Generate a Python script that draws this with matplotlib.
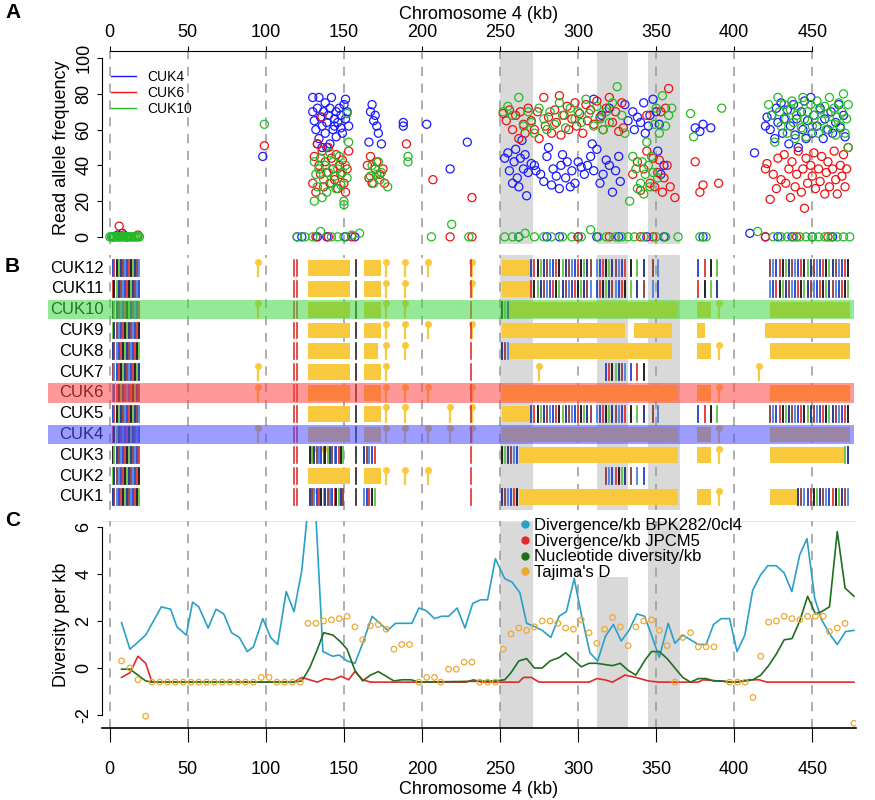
import numpy as np
import matplotlib.pyplot as plt
from matplotlib.lines import Line2D
from matplotlib.patches import Rectangle

plt.rcParams["font.family"] = ["Liberation Sans Narrow", "Liberation Sans", "DejaVu Sans"]

XLIM = (-5, 478)
KB_TICKS = [0, 50, 100, 150, 200, 250, 300, 350, 400, 450]
SHADE = [(250, 271), (312, 332), (345, 365)]
SHADE_TOP_C = [6.25, 3.85, 6.25]

# ---- panel A: read allele frequency (position kb, frequency %)
cuk4 = [(98,45),(130,78),(130,70),(131,65),(132,60),(133,72),(134,78),(134,55),(135,67),(136,62),(137,70),(138,75),(138,58),
        (139,64),(140,68),(141,52),(141,72),(142,78),(143,60),(144,66),(145,70),(145,56),(146,64),(147,72),(148,61),(148,68),
        (149,58),(150,74),(151,66),(151,77),(152,70),(153,62),(133,52),(136,50),(144,62),(139,50),
        (166,53),(167,70),(168,74),(169,65),(170,68),(171,62),(172,58),(174,52),(188,64),(188,62),(203,63),(218,38),(229,53),
        (253,44),(255,47),(256,37),(258,30),(259,42),(260,49),(261,33),(262,28),(263,44),(264,54),(265,38),(266,46),(267,23),
        (268,36),(270,41),(272,40),(273,37),(276,35),(278,31),(280,45),(281,50),(283,29),(284,38),(286,34),(288,27),(289,40),
        (290,46),(292,33),(293,42),(295,28),(296,37),(298,30),(300,42),(302,39),(304,35),(306,40),(308,45),(309,52),(310,37),
        (312,49),(314,30),(316,35),(318,43),(320,40),(322,25),(324,37),(326,45),(327,31),
        (310,77),(315,68),(320,72),(330,74),(332,65),(335,70),(336,60),(338,67),(340,64),(342,75),(343,58),(345,62),(346,68),
        (348,77),(350,70),(351,48),(353,35),(355,40),(352,63),(375,61),(378,59),(380,63),(385,61),(413,47),
        (420,62),(421,67),(423,60),(424,68),(426,55),(427,72),(428,64),(430,75),(431,58),(432,66),(434,71),(435,52),(436,62),
        (438,74),(439,57),(440,66),(441,50),(443,70),(444,60),(445,76),(446,55),(447,65),(449,78),(450,58),(451,68),(453,62),
        (455,72),(457,55),(458,66),(460,60),(462,70),(463,58),(465,64),(467,74),(468,61),(470,68),(471,56),
        (2,0),(5,1),(8,2),(11,0),(120,0),(123,0),(133,0),(139,0),(151,0),(157,0),(262,0),(280,0),(288,0),(300,0),(312,0),
        (326,0),(344,0),(355,0),(380,0),(410,2),(420,0),(428,0),(437,0),(450,0),(463,0)]
cuk6 = [(99,51),(136,67),(130,30),(131,45),(132,25),(133,52),(134,40),(135,35),(136,48),(137,28),(138,42),(139,36),(140,50),
        (141,30),(142,44),(143,38),(144,32),(145,46),(146,27),(147,40),(148,35),(149,43),(150,30),(151,25),(152,38),(153,48),
        (165,40),(166,33),(167,45),(168,30),(170,38),(171,42),(173,35),(175,38),(176,30),(190,52),(207,32),(232,22),
        (252,69),(254,65),(256,71),(258,60),(260,68),(262,55),(263,70),(265,63),(266,58),(268,72),(270,65),(272,60),(274,70),
        (275,55),(278,78),(279,62),(281,67),(283,58),(285,71),(286,64),(288,79),(289,57),(291,68),(293,73),(294,60),(296,66),
        (298,75),(299,62),(301,69),(303,58),(305,74),(306,65),(308,71),(310,63),(312,76),(314,67),(316,60),(318,72),(320,78),
        (322,64),(324,70),(326,59),(328,75),(329,61),
        (335,35),(338,42),(340,26),(342,38),(344,48),(346,30),(348,44),(349,28),(351,36),(352,43),(354,25),(355,33),(357,40),
        (358,83),(359,28),(362,22),(353,70),(356,72),(344,68),(375,42),(378,25),(380,29),(390,30),
        (420,38),(421,41),(423,21),(425,35),(427,27),(428,44),(430,32),(432,46),(433,30),(435,38),(436,22),(437,42),(439,28),
        (440,35),(441,48),(443,25),(444,38),(445,16),(446,44),(447,30),(449,40),(450,34),(451,47),(452,27),(454,38),(455,31),
        (456,45),(458,24),(459,36),(460,42),(461,28),(463,38),(464,48),(465,32),(466,24),(468,40),(469,34),(470,46),(471,28),
        (472,38),(473,50),
        (6,6),(9,1),(18,1),(132,0),(140,0),(155,0),(218,0),(232,0),(300,0),(320,0),(340,0),(348,0),(420,0),(440,0),(460,0)]
cuk10 = [(99,63),(152,69),(131,42),(131,20),(132,35),(133,28),(134,38),(135,44),(136,22),(137,32),(138,40),(139,25),(140,36),
         (141,47),(142,30),(143,42),(144,34),(145,27),(146,38),(147,45),(148,29),(149,36),(150,18),(150,20),(151,40),(152,33),
         (153,53),(167,34),(168,40),(169,30),(170,38),(171,35),(172,42),(173,32),(174,36),(178,28),(191,45),(191,42),
         (252,70),(255,73),(258,68),(262,78),(265,62),(268,70),(270,64),(272,58),(275,72),(278,66),(280,60),(282,70),(285,63),
         (288,75),(290,68),(292,61),(295,72),(298,66),(300,70),(302,64),(305,77),(307,69),(310,62),(312,73),(314,66),(316,60),
         (318,70),(320,64),(322,75),(325,84),(328,68),(330,58),
         (333,20),(335,45),(337,38),(338,27),(340,30),(341,42),(342,24),(343,35),(344,53),(345,40),(346,28),(347,45),(348,36),
         (349,63),(350,72),(351,33),(352,58),(354,79),(356,62),(358,68),(360,72),(372,69),(374,56),(392,72),
         (422,74),(424,68),(426,53),(428,78),(429,70),(430,62),(432,74),(433,66),(434,58),(436,71),(437,76),(438,64),(439,55),
         (440,68),(441,73),(443,61),(444,78),(445,66),(446,56),(447,70),(449,74),(450,62),(451,68),(453,76),(454,58),(455,71),
         (456,65),(458,73),(459,60),(460,69),(461,78),(462,63),(464,72),(465,57),(466,67),(467,75),(468,62),(469,70),(470,80),
         (471,58),(472,66),(473,74),(473,50),
         (0,0),(1,0),(2,0),(3,0),(4,0),(5,0),(6,0),(7,0),(8,0),(9,0),(10,0),(11,0),(12,0),(13,0),(14,0),(15,0),(16,0),(17,0),
         (18,0),(19,0),(120,0),(125,0),(130,0),(135,3),(142,0),(146,0),(150,0),(155,1),(160,2),(206,0),(219,7),(230,0),(253,0),
         (258,0),(262,0),(266,2),(272,0),(278,0),(283,0),(290,0),(296,0),(302,0),(308,4),(313,0),(318,0),(324,0),(328,0),
         (332,0),(336,0),(342,0),(350,0),(356,0),(364,0),(378,0),(382,0),(415,3),(425,0),(430,0),(434,0),(438,0),(442,0),
         (446,0),(450,0),(454,0),(458,0),(462,0),(466,0),(470,0),(474,0)]

# ---- panel B: haplotypes
samples = ["CUK12", "CUK11", "CUK10", "CUK9", "CUK8", "CUK7", "CUK6", "CUK5", "CUK4", "CUK3", "CUK2", "CUK1"]
snp_ticks = [2, 3, 4.5, 6, 7, 8.5, 9.5, 11, 12, 13.5, 15, 16, 17.5, 18.5,
             128, 129.5, 131, 132.5, 134, 135.5, 137, 138, 139.5, 141, 142.5, 144, 145, 146.5, 148, 149.5,
             163, 164.5, 166, 168, 170,
             251, 253, 255, 257, 259, 261, 265, 270, 272, 274, 276, 278, 280, 282, 284, 286, 288, 290, 292, 294, 296,
             298, 300, 302, 304, 306, 308, 312, 314, 316, 318, 320, 322, 324, 326, 328, 330, 334, 338, 342, 348, 351,
             377, 381, 385, 389, 414, 423, 425, 427, 429, 431, 433, 435, 437, 439, 441, 443, 445, 447, 449, 451, 453,
             455, 457, 459, 461, 463, 465, 467, 469, 471, 473]
common_ticks = [118, 120, 157.5, 231.5]
common_colors = ["#e03030", "#e03030", "#222222", "#e03030"]
yellow = [
    [(127, 154), (163, 174), (251, 270)],
    [(127, 154), (163, 174), (251, 270)],
    [(127, 154), (163, 174), (256, 364), (376, 385), (423, 474)],
    [(127, 154), (163, 174), (251, 330), (336, 360), (376, 381), (420, 474)],
    [(127, 154), (163, 172), (256, 360), (376, 385), (423, 474)],
    [(127, 154), (163, 174)],
    [(127, 154), (163, 174), (251, 364), (376, 385), (423, 474)],
    [(127, 154), (163, 174), (251, 270)],
    [(127, 154), (163, 174), (251, 364), (376, 385), (423, 474)],
    [(262, 364), (376, 385), (423, 470)],
    [(127, 154), (163, 174)],
    [(262, 364), (376, 385), (423, 440)],
]
stalks = [
    [95, 177, 189, 204, 232], [177, 189, 232], [95, 177, 189, 390], [177, 189, 204, 232],
    [177, 189, 390], [95, 177, 275, 416], [95, 177, 189, 204, 232, 390], [177, 189, 218, 232],
    [95, 177, 189, 204, 218, 232, 390], [130, 137, 390], [177, 189, 204], [130, 390],
]
colored = [
    [(0, 20), (270, 352), (376, 395), (423, 474)],
    [(0, 20), (270, 352), (376, 395), (423, 474)],
    [(0, 20), (251, 256)],
    [(0, 20)],
    [(0, 20), (251, 256)],
    [(0, 20), (318, 345)],
    [(0, 20)],
    [(0, 20), (270, 352), (376, 395), (423, 474)],
    [(0, 20)],
    [(0, 20), (128, 150), (163, 171), (251, 262), (470, 474)],
    [(0, 20), (318, 345)],
    [(0, 20), (128, 150), (163, 171), (251, 262), (440, 474)],
]
highlight = {"CUK10": "#3fd63f", "CUK6": "#ff4545", "CUK4": "#4d4dff"}
snp_palette = ["#2040d0", "#e03030", "#111111", "#60c040", "#1b2a8a", "#8b3a3a", "#4a80e0"]

# ---- panel C: diversity (kb, value)
div_bpk = [(7.5,1.93),(12.9,0.8),(23,1.4),(33,2.6),(39,2.5),(43,1.75),(49,1.4),(53,2.8),(57,2.6),(63,1.7),(68,2.5),(73,2.3),
           (78,1.5),(83,1.3),(88,0.7),(92,0.9),(98,2.1),(103,1.3),(107.5,1.0),(113,3.25),(118,2.4),(123,4.15),(126.5,6.5),
           (132,6.5),(136.5,0.7),(142.7,0.5),(147,0.55),(152,0.3),(157,0.2),(162,1.05),(168,2.2),(173,1.9),(178,1.6),
           (183,1.9),(188,1.9),(193.5,1.9),(198,2.55),(202.5,2.45),(208,2.1),(212.5,2.2),(217,2.2),(222.5,2.55),(227.5,1.7),
           (232.5,2.75),(237.5,2.9),(242,2.9),(247,4.65),(253,3.8),(257.7,3.65),(262.7,3.2),(267,1.9),(272.5,1.75),
           (277,1.6),(282.5,1.3),(287.8,2.2),(292.5,2.4),(297.5,3.8),(302,2.3),(307.5,0.65),(312.5,0.3),(317.5,1.35),
           (322.6,1.85),(327.6,1.15),(332.6,1.6),(337.6,2.3),(342.6,2.2),(347,1.4),(352,0.45),(357.7,1.9),(362,1.05),
           (367,1.4),(372,1.2),(377,1.0),(382,1.0),(386.7,1.85),(391.7,2.1),(397,2.1),(401.8,0.7),(406.8,1.4),(411.8,3.3),
           (416.8,3.95),(421.5,4.35),(426.9,4.35),(431.9,4.05),(436.9,3.25),(441.9,4.8),(446.6,5.5),(451.6,2.95),
           (456,2.05),(461.6,1.4),(466,1.0),(471.3,1.55),(476.7,1.6)]
div_jpc = [(7.5,-0.4),(12.9,-0.2),(18,0.5),(23,0.2),(27,-0.6),(118,-0.6),(123,-0.4),(128,-0.5),(133,-0.6),(138,-0.45),
           (143,-0.5),(148,-0.35),(153,-0.5),(157,-0.15),(162,-0.5),(167,-0.6),(228,-0.6),(233,-0.5),(238,-0.6),
           (262,-0.6),(265,-0.4),(270,-0.4),(275,-0.6),(307,-0.6),(312,-0.45),(317,-0.5),(322,-0.6),(330,-0.3),
           (337,-0.4),(345,-0.55),(352,-0.6),(377,-0.6),(380,-0.5),(390,-0.55),(400,-0.6),(410,-0.5),(416,-0.5),
           (421,-0.6),(476.7,-0.6)]
nuc_div = [(7.5,-0.05),(12.9,-0.05),(18,-0.3),(23,-0.55),(27,-0.6),(118,-0.6),(123,-0.55),(128,0.0),(133,0.8),(137,1.5),
           (143,1.4),(148,1.1),(152,0.8),(157,-0.1),(162,-0.55),(167,-0.3),(172,-0.15),(177,-0.35),(182,-0.55),
           (187,-0.5),(193,-0.5),(198,-0.6),(247,-0.55),(253,-0.5),(257,-0.2),(262,0.3),(267,0.4),(272,0.0),(277,0.0),
           (282,0.3),(288,0.45),(292,0.65),(297,0.35),(302,0.05),(307,0.2),(312,0.2),(317,0.15),(322,0.1),(327,0.2),
           (332,-0.1),(337,-0.3),(343,0.35),(347,0.7),(352,0.7),(357,0.4),(362,0.0),(367,-0.4),(372,-0.6),(377,-0.45),
           (382,-0.45),(387,-0.55),(392,-0.55),(397,-0.6),(402,-0.6),(407,-0.55),(412,-0.5),(417,-0.3),(422,0.1),
           (427,0.6),(432,1.2),(437,1.25),(442,2.0),(447,3.05),(452,2.3),(456,2.4),(461,2.6),(466,5.8),(471,3.4),
           (476.7,3.05)]
tajima = [(7.5,0.3),(12.9,0.0),(18,-0.5),(23,-2.05),(27,-0.6),(32,-0.6),(37,-0.6),(42,-0.6),(47,-0.6),(52,-0.6),(57,-0.6),
          (62,-0.6),(67,-0.6),(72,-0.6),(77,-0.6),(82,-0.6),(87,-0.6),(92,-0.6),(97,-0.4),(102,-0.4),(107,-0.6),(112,-0.6),
          (117,-0.6),(122,-0.6),(127,1.9),(132,1.9),(137,2.0),(142,2.05),(147,2.1),(152,2.2),(157,1.75),(162,1.2),(167,1.8),
          (172,1.85),(177,1.65),(182,0.8),(187,1.0),(192,1.0),(198,-0.6),(203,-0.4),(208,-0.4),(212,-0.6),(217,-0.05),
          (222,-0.05),(227,0.25),(232,0.25),(237,-0.6),(242,-0.6),(247,-0.6),(252,0.8),(257,1.45),(262,1.7),(267,1.6),
          (272,1.75),(277,2.0),(282,2.0),(287,1.9),(292,1.7),(297,1.65),(302,2.05),(307,1.5),(312,1.05),(317,1.65),
          (322,2.15),(327,1.75),(332,0.95),(337,1.75),(342,2.0),(347,2.05),(352,1.6),(357,0.95),(362,-0.6),(367,1.3),
          (372,1.5),(377,0.9),(382,0.9),(387,0.9),(397,-0.6),(402,-0.6),(407,-0.6),(412,-1.25),(417,0.5),(422,1.95),
          (427,2.0),(432,2.2),(437,2.1),(442,2.05),(447,2.2),(452,2.2),(457,2.2),(461,1.55),(466,1.7),(471,1.9),
          (476.7,-2.35)]

GREY = "#d9d9d9"
DASH = dict(color="#999999", lw=1.1, ls=(0, (6, 5)), zorder=1)

fig = plt.figure(figsize=(8.75, 8.0), dpi=100)
L, W = 102 / 875, 754 / 875

# ---------- A
axA = fig.add_axes([L, 1 - 244 / 800, W, 193 / 800])
axA.set_xlim(*XLIM)
axA.set_ylim(-4, 104)
for (a, b) in SHADE:
    axA.axvspan(a, b, color=GREY, lw=0, zorder=0)
for x in KB_TICKS:
    axA.axvline(x, **DASH)
for data, col in [(cuk4, "#1a1aff"), (cuk6, "#ee1111"), (cuk10, "#22bb22")]:
    d = np.array(data, dtype=float)
    axA.scatter(d[:, 0], d[:, 1], s=34, facecolors="none", edgecolors=col, linewidths=0.9, zorder=3, clip_on=False)
axA.spines["right"].set_visible(False)
axA.spines["bottom"].set_visible(False)
axA.spines["left"].set_bounds(0, 100)
axA.spines["top"].set_bounds(0, 450)
axA.xaxis.tick_top()
axA.xaxis.set_label_position("top")
axA.set_xticks(KB_TICKS)
axA.set_xlabel("Chromosome 4 (kb)", fontsize=13, labelpad=4)
axA.set_yticks([0, 20, 40, 60, 80, 100])
axA.set_yticklabels(["0", "20", "40", "60", "80", "100"], rotation=90, va="center")
axA.set_ylabel("Read allele frequency", fontsize=13)
axA.tick_params(labelsize=13)
handles = [Line2D([], [], color=c, lw=1) for c in ["#1a1aff", "#ee1111", "#22bb22"]]
axA.legend(handles, ["CUK4", "CUK6", "CUK10"], loc="upper left", bbox_to_anchor=(0.005, 0.93),
           frameon=False, fontsize=10, handlelength=1.8, labelspacing=0.15, borderaxespad=0)

# ---------- B
axB = fig.add_axes([L, 1 - 510 / 800, W, 255 / 800])
axB.set_xlim(*XLIM)
axB.set_ylim(11.63, -0.63)
axB.axis("off")
for (a, b) in SHADE:
    axB.axvspan(a, b, color=GREY, lw=0, zorder=0)
for x in KB_TICKS:
    axB.axvline(x, **DASH)
snp = np.array(snp_ticks)
for i, name in enumerate(samples):
    for (a, b) in yellow[i]:
        axB.add_patch(Rectangle((a, i - 0.38), b - a, 0.76, color="#f8c93c", lw=0, zorder=2))
    for s in stalks[i]:
        axB.plot([s, s], [i - 0.3, i + 0.38], color="#f8c93c", lw=1.6, zorder=2)
        axB.plot(s, i - 0.3, "o", color="#f8c93c", ms=4, zorder=2)
    for (a, b) in colored[i]:
        for k, p in enumerate(snp):
            if a <= p <= b:
                axB.plot([p, p], [i - 0.38, i + 0.38], color=snp_palette[(k + i) % len(snp_palette)],
                         lw=1.3, zorder=3)
    for p, c in zip(common_ticks, common_colors):
        axB.plot([p, p], [i - 0.38, i + 0.38], color=c, lw=1.2, zorder=3)
    axB.text(-4, i, name, ha="right", va="center", fontsize=12, clip_on=False)
    if name in highlight:
        axB.add_patch(Rectangle((-39.5, i - 0.47), 516, 0.94, color=highlight[name], alpha=0.55,
                                lw=0, zorder=5, clip_on=False))

# ---------- C
axC = fig.add_axes([L, 1 - 728 / 800, W, 207 / 800])
axC.set_xlim(*XLIM)
axC.set_ylim(-2.55, 6.25)
for (a, b), top in zip(SHADE, SHADE_TOP_C):
    axC.fill_between([a, b], -2.55, top, color=GREY, lw=0, zorder=0)
for x in KB_TICKS:
    axC.axvline(x, **DASH)
axC.axhline(6.25, color="#e6e6e6", lw=0.8, zorder=0)
series = [(div_bpk, "#2aa0c8", "Divergence/kb BPK282/0cl4"),
          (div_jpc, "#e02a2a", "Divergence/kb JPCM5"),
          (nuc_div, "#1f6f1f", "Nucleotide diversity/kb")]
for data, col, lab in series:
    d = np.array(data)
    axC.plot(d[:, 0], d[:, 1], color=col, lw=1.2, zorder=3)
t = np.array(tajima)
axC.scatter(t[:, 0], t[:, 1], s=16, facecolors="none", edgecolors="#f0a830", linewidths=0.9, zorder=4)
axC.spines["right"].set_visible(False)
axC.spines["top"].set_visible(False)
axC.spines["left"].set_bounds(-2, 6)
axC.spines["bottom"].set_linewidth(1.2)
axC.set_xticks(KB_TICKS)
axC.set_yticks([-2, 0, 2, 4, 6])
axC.set_yticklabels(["-2", "0", "2", "4", "6"], rotation=90, va="center")
axC.set_ylabel("Diversity per kb", fontsize=13)
axC.set_xlabel("Chromosome 4 (kb)", fontsize=13, labelpad=2)
axC.tick_params(axis="x", length=10, pad=14, labelsize=13)
axC.tick_params(axis="y", labelsize=13)
lh = [Line2D([], [], marker="o", ls="none", color=c, ms=5)
      for c in ["#2aa0c8", "#e02a2a", "#1f6f1f", "#f0a830"]]
fig.legend(lh, [s[2] for s in series] + ["Tajima's D"], loc="upper left",
           bbox_to_anchor=(512 / 875, 1 - 511 / 800), frameon=False, fontsize=12,
           handletextpad=0.1, labelspacing=0.05, handlelength=0.8, borderaxespad=0)

for lab, y in [("A", 12), ("B", 266), ("C", 520)]:
    fig.text(5 / 875, 1 - y / 800, lab, fontsize=15, fontweight="bold", va="center")

fig.savefig("out.png", dpi=100, facecolor="white")
